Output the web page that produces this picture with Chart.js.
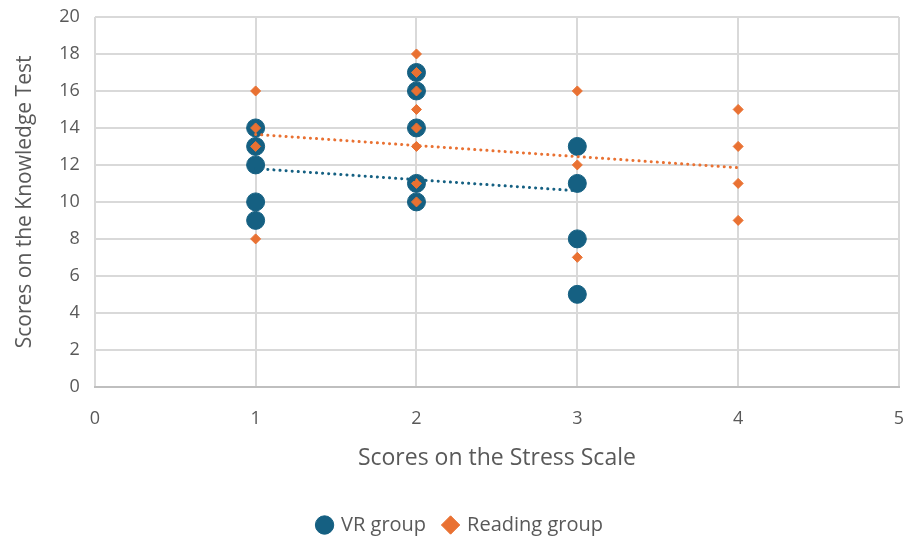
<!DOCTYPE html>
<html>
<head>
<meta charset="utf-8">
<script src="https://cdn.jsdelivr.net/npm/chart.js@4/dist/chart.umd.min.js"></script>
<style>
  html, body { margin:0; padding:0; background:#fff; }
  #wrap { width:909px; height:541px; }
</style>
</head>
<body>
<div id="wrap"><canvas id="chart" width="909" height="541"></canvas></div>
<script>
// VR group scores: stress scale (x) vs knowledge test (y)
const vrX = [1, 1, 1, 1, 1, 2, 2, 2, 2, 2, 3, 3, 3, 3];
const vrY = [14, 13, 12, 10, 9, 17, 16, 14, 11, 10, 13, 11, 8, 5];

// Reading group
const readX = [1, 1, 1, 1, 2, 2, 2, 2, 2, 2, 2, 2, 3, 3, 3, 4, 4, 4, 4];
const readY = [16, 14, 13, 8, 18, 17, 16, 15, 14, 13, 11, 10, 16, 12, 7, 15, 13, 11, 9];

// linear trendline end points
const vrTrendX = [1, 3];
const vrTrendY = [11.8, 10.6];
const readTrendX = [1, 4];
const readTrendY = [13.65, 11.85];

const xTicks = [0, 1, 2, 3, 4, 5];
const yTicks = [0, 2, 4, 6, 8, 10, 12, 14, 16, 18, 20];

const BLUE = "#156082";
const ORANGE = "#E97132";
const GRID = "#d9d9d9";
const TEXT = "#595959";
const FONT = "'Open Sans', 'Noto Sans', sans-serif";

const pts = (xs, ys) => xs.map((x, i) => ({ x, y: ys[i] }));

new Chart(document.getElementById("chart"), {
  type: "scatter",
  data: {
    datasets: [
      {
        label: "VR group",
        data: pts(vrX, vrY),
        backgroundColor: BLUE,
        borderColor: BLUE,
        pointStyle: "circle",
        pointRadius: 9,
        pointHoverRadius: 9,
        order: 3
      },
      {
        label: "Reading group",
        data: pts(readX, readY),
        backgroundColor: ORANGE,
        borderColor: ORANGE,
        pointStyle: "rectRot",
        pointRadius: 5,
        pointHoverRadius: 5,
        order: 2
      },
      {
        label: "trend-vr",
        type: "line",
        data: pts(vrTrendX, vrTrendY),
        borderColor: BLUE,
        borderWidth: 3,
        borderDash: [0.1, 6],
        borderCapStyle: "round",
        pointRadius: 0,
        order: 1
      },
      {
        label: "trend-read",
        type: "line",
        data: pts(readTrendX, readTrendY),
        borderColor: ORANGE,
        borderWidth: 3,
        borderDash: [0.1, 6],
        borderCapStyle: "round",
        pointRadius: 0,
        order: 0
      }
    ]
  },
  options: {
    responsive: false,
    animation: false,
    layout: { padding: { left: 12, right: 0, top: 0, bottom: -4 } },
    plugins: {
      legend: {
        position: "bottom",
        labels: {
          color: TEXT,
          font: { family: FONT, size: 20 },
          usePointStyle: true,
          boxWidth: 13,
          boxHeight: 13,
          padding: 18,
          sort: (a, b) => a.datasetIndex - b.datasetIndex,
          filter: (item) => !item.text.startsWith("trend")
        }
      },
      tooltip: { enabled: false }
    },
    scales: {
      x: {
        type: "linear",
        min: 0, max: 5,
        afterBuildTicks: (axis) => { axis.ticks = xTicks.map(v => ({ value: v })); },
        afterFit: (axis) => { axis.paddingRight = 9; axis.paddingLeft = 0; },
        ticks: { color: TEXT, font: { family: FONT, size: 18 }, padding: 21 },
        grid: { color: GRID, lineWidth: 2, drawTicks: false },
        border: { color: "#bfbfbf", width: 2 },
        title: {
          display: true,
          text: "Scores on the Stress Scale",
          color: TEXT,
          font: { family: FONT, size: 23 },
          padding: { top: -6, bottom: 25 }
        }
      },
      y: {
        min: 0, max: 20,
        afterBuildTicks: (axis) => { axis.ticks = yTicks.map(v => ({ value: v })); },
        afterFit: (axis) => { axis.paddingTop = 17; axis.paddingBottom = 0; },
        ticks: { color: TEXT, font: { family: FONT, size: 18 }, padding: 15 },
        grid: { color: GRID, lineWidth: 2, drawTicks: false },
        border: { display: false },
        title: {
          display: true,
          text: "Scores on the Knowledge Test",
          color: TEXT,
          font: { family: FONT, size: 21 },
          padding: { top: 0, bottom: 7 }
        }
      }
    }
  }
});
</script>
</body>
</html>
